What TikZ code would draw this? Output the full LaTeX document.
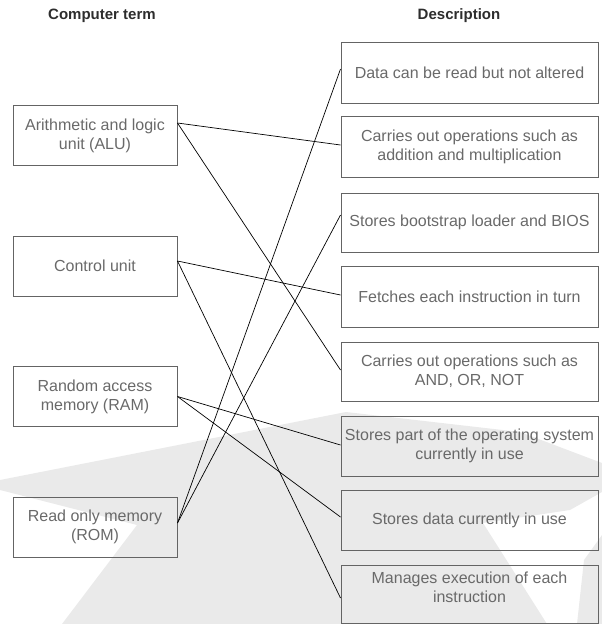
\documentclass[tikz,border=0pt]{standalone}
\usepackage{fontspec}
\setmainfont{Liberation Sans}
\definecolor{wm}{RGB}{234,234,234}
\definecolor{boxline}{RGB}{100,100,100}
\definecolor{boxtext}{RGB}{105,105,105}
\definecolor{headtext}{RGB}{45,45,45}
\tikzset{
  termbox/.style={draw=boxline, line width=1pt, minimum width=164pt, minimum height=60pt,
    align=center, text=boxtext, font=\fontsize{16}{19}\selectfont, inner sep=0pt},
  descbox/.style={termbox, minimum width=257pt},
  desctext/.style={align=center, text=boxtext, font=\fontsize{16}{19}\selectfont, inner sep=0pt},
  head/.style={font=\fontsize{15}{18}\selectfont\bfseries, text=headtext, inner sep=0pt},
  link/.style={draw=black, line width=0.7pt}
}
\begin{document}
\begin{tikzpicture}[x=1pt, y=-1pt]
\useasboundingbox (0,0) rectangle (602,624);
% watermark
\fill[wm] (0,480) -- (346,412) -- (520,432) -- (602,463) -- (602,492) -- (570,510)
  -- (483,523) -- (547,624) -- (62,624) -- (137,525) -- (0,490) -- cycle;
\fill[wm] (602,535) -- (584,560) -- (577,624) -- (602,624) -- cycle;
% headings
\node[head] (h1) at (102,16) {Computer term};
\node[head] (h2) at (459,16) {Description};
% terms
\node[termbox] (alu) at (95,135.5) {Arithmetic and logic\\unit (ALU)};
\node[termbox] (cu) at (95,266) {Control unit};
\node[termbox] (ram) at (95,396.5) {Random access\\memory (RAM)};
\node[termbox] (rom) at (95,527) {Read only memory\\(ROM)};
% descriptions
\node[descbox, minimum height=61pt] (d1) at (469.5,72.5) {Data can be read but not altered};
\node[descbox, minimum height=61pt] (d2) at (469.5,146.5) {Carries out operations such as\\addition and multiplication};
\node[descbox, minimum height=59pt] (d3) at (469.5,222.5) {Stores bootstrap loader and BIOS};
\node[descbox, minimum height=61pt] (d4) at (469.5,296.5) {Fetches each instruction in turn};
\node[descbox, minimum height=59pt] (d5) at (469.5,371.5) {Carries out operations such as\\AND, OR, NOT};
\node[descbox] (d6) at (469.5,446) {Stores part of the operating system\\currently in use};
\node[descbox] (d7) at (469.5,520) {Stores data currently in use};
\node[descbox, minimum height=58pt] (d8) at (469.5,594) {};
\node[desctext] (d8t) at (469.5,587) {Manages execution of each\\instruction};
% links
\draw[link] ([yshift=12.5pt]alu.east) -- ([yshift=1.5pt]d2.west);
\draw[link] ([yshift=12.5pt]alu.east) -- ([yshift=1.5pt]d5.west);
\draw[link] ([yshift=5pt]cu.east) -- ([yshift=1.5pt]d4.west);
\draw[link] ([yshift=5pt]cu.east) -- ([yshift=-4pt]d8.west);
\draw[link] (ram.east) -- ([yshift=1pt]d6.west);
\draw[link] (ram.east) -- ([yshift=3pt]d7.west);
\draw[link] ([yshift=4pt]rom.east) -- ([yshift=3.5pt]d1.west);
\draw[link] ([yshift=4pt]rom.east) -- ([yshift=7.5pt]d3.west);
\end{tikzpicture}
\end{document}
